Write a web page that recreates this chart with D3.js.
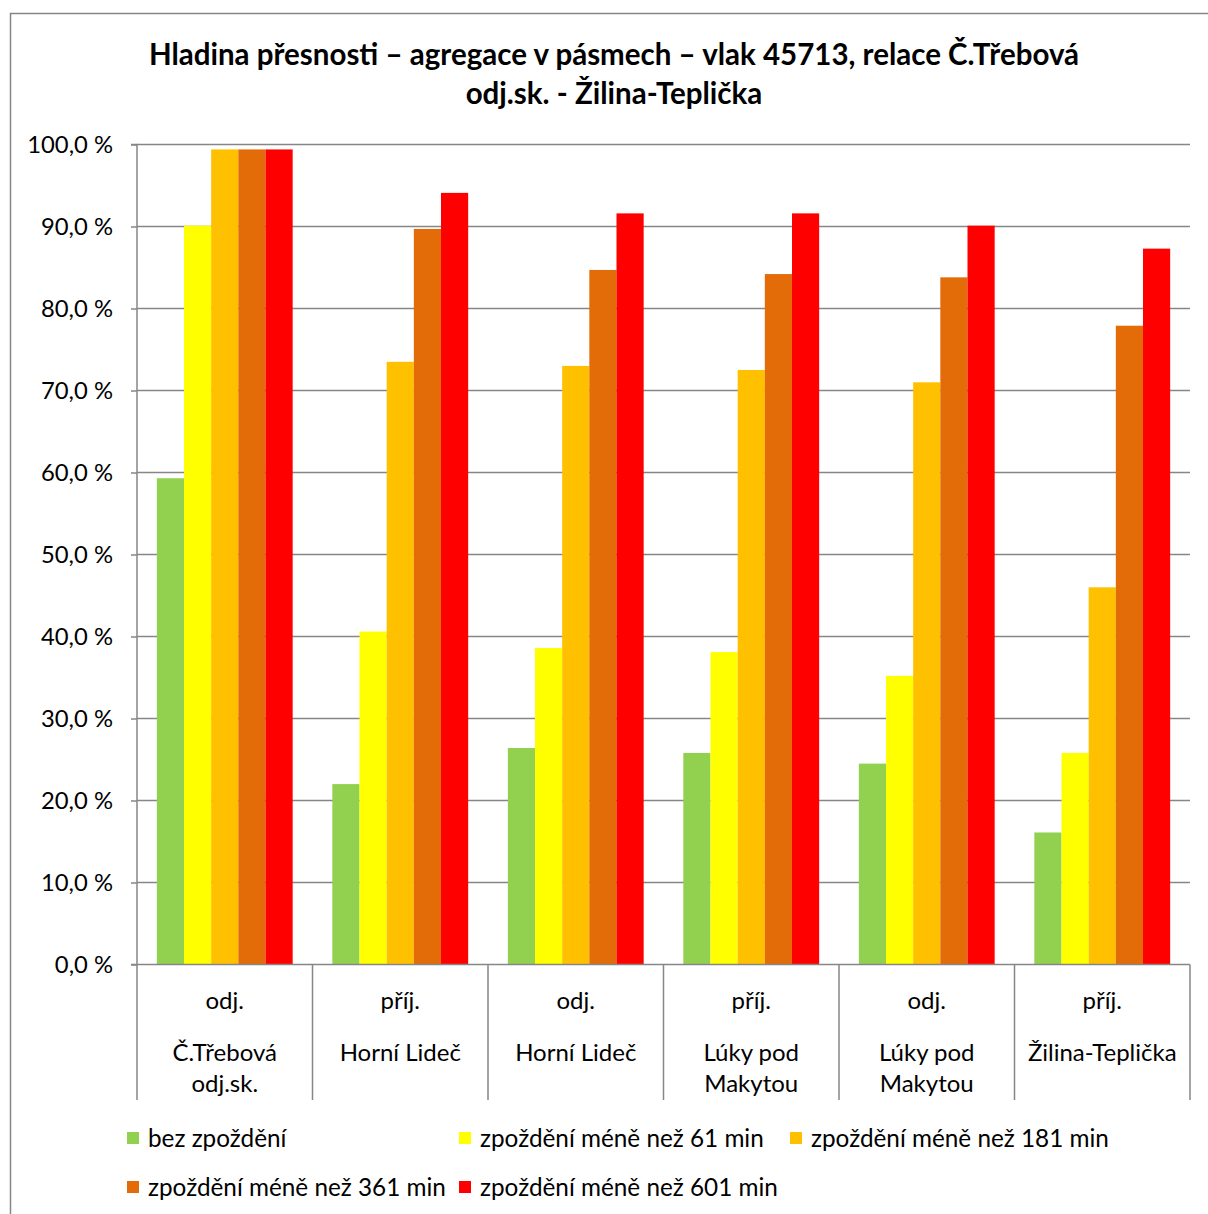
<!DOCTYPE html>
<html><head><meta charset="utf-8">
<script src="https://cdn.jsdelivr.net/npm/d3@7"></script>
<style>body{margin:0;background:#fff}svg{display:block}text{font-family:Lato,"Open Sans",sans-serif;fill:#000}</style>
</head><body><div id="c"></div>
<script>
const categories = [
  ["odj.", "Č.Třebová", "odj.sk."],
  ["příj.", "Horní Lideč"],
  ["odj.", "Horní Lideč"],
  ["příj.", "Lúky pod", "Makytou"],
  ["odj.", "Lúky pod", "Makytou"],
  ["příj.", "Žilina-Teplička"]
];
const seriesNames = ["bez zpoždění","zpoždění méně než 61 min","zpoždění méně než 181 min","zpoždění méně než 361 min","zpoždění méně než 601 min"];
const colors = ["#92d050","#ffff00","#ffc000","#e36c09","#ff0000"];
const s0 = [59.3, 22.0, 26.4, 25.8, 24.5, 16.1];
const s1 = [90.1, 40.6, 38.6, 38.1, 35.2, 25.8];
const s2 = [99.4, 73.5, 73.0, 72.5, 71.0, 46.0];
const s3 = [99.4, 89.7, 84.7, 84.2, 83.8, 77.9];
const s4 = [99.4, 94.1, 91.6, 91.6, 90.1, 87.3];
const series = [s0, s1, s2, s3, s4];
const yTicks = [0,10,20,30,40,50,60,70,80,90,100];
const titleLines = ["Hladina přesnosti – agregace v pásmech – vlak 45713, relace Č.Třebová", "odj.sk. - Žilina-Teplička"];

const W = 1208, H = 1214;
const svg = d3.select("#c").append("svg").attr("width", W).attr("height", H);
svg.append("rect").attr("x",10.5).attr("y",13.5).attr("width",W+5).attr("height",H+5).attr("fill","#fff").attr("stroke","#868686").attr("stroke-width",1.5);

const L = 137, R = 1190, T = 144.5, B = 964.5;
const x = d3.scaleBand().domain(d3.range(categories.length)).range([L, R]).paddingInner(0).paddingOuter(0);
const x1 = d3.scaleBand().domain(d3.range(series.length)).range([0, x.bandwidth()]).paddingOuter(0.73).paddingInner(0);
const y = d3.scaleLinear().domain([0,100]).range([B, T]);

// title
svg.append("g").selectAll("text").data(titleLines).join("text")
  .attr("x", 614).attr("y", (d,i)=>65 + i*39).attr("text-anchor","middle")
  .attr("font-size", 29.5).attr("font-weight","bold").text(d=>d);

// gridlines
svg.append("g").selectAll("line").data(yTicks.filter(d=>d>0)).join("line")
  .attr("x1", L).attr("x2", R).attr("y1", d=>y(d)).attr("y2", d=>y(d))
  .attr("stroke","#868686").attr("stroke-width",1.5);

// bars
const g = svg.append("g");
series.forEach((s, si) => {
  g.selectAll(null).data(s).join("rect")
    .attr("x", (d,i)=> x(i) + x1(si))
    .attr("y", d=> y(d))
    .attr("width", x1.bandwidth())
    .attr("height", d=> y(0)-y(d))
    .attr("fill", colors[si]);
});

// y axis
const yAxis = d3.axisLeft(y).tickValues(yTicks).tickSize(6).tickPadding(18)
  .tickFormat(d => d3.format(".1f")(d).replace(".", ",") + " %");
const ya = svg.append("g").attr("transform", `translate(${L},0)`).call(yAxis);
ya.selectAll("path,line").attr("stroke","#868686").attr("stroke-width",1.5);
ya.select(".domain").attr("d", `M-6,${T}H0V${B}`);
ya.selectAll("text").attr("font-size",23.8).attr("font-family","Lato").attr("fill","#000").attr("dy","0.35em");

// x axis line + dividers
svg.append("line").attr("x1",L-6).attr("x2",R).attr("y1",B).attr("y2",B).attr("stroke","#868686").attr("stroke-width",1.5);
const divs = d3.range(categories.length+1).map(i => i < categories.length ? x(i) : R);
svg.append("g").selectAll("line").data(divs).join("line")
  .attr("x1", d=>d).attr("x2", d=>d).attr("y1", B).attr("y2", 1100)
  .attr("stroke","#868686").attr("stroke-width",1.5);

// category labels
const lineY = [1009, 1061, 1092];
const cg = svg.append("g").selectAll("text").data(categories).join("text")
  .attr("text-anchor","middle").attr("font-size",24);
cg.each(function(lines, i){
  const t = d3.select(this);
  lines.forEach((ln, j) => t.append("tspan").attr("x", x(i)+x.bandwidth()/2).attr("y", lineY[j]).text(ln));
});

// legend
const legPos = [[127,1138],[459,1138],[790,1138],[127,1187],[459,1187]];
const lg = svg.append("g").selectAll("g").data(seriesNames).join("g")
  .attr("transform", (d,i)=>`translate(${legPos[i][0]},${legPos[i][1]})`);
lg.append("rect").attr("x",0).attr("y",-6).attr("width",12).attr("height",12).attr("fill",(d,i)=>colors[i]);
lg.append("text").attr("x",21).attr("y",0).attr("dy","0.35em").attr("font-size",24.3).text(d=>d);
</script></body></html>
